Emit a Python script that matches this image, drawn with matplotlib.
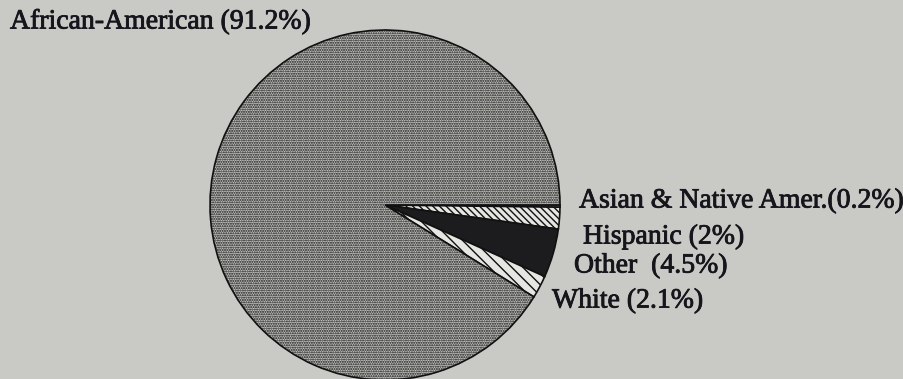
import matplotlib
matplotlib.use('Agg')
import matplotlib.pyplot as plt
import matplotlib.patheffects as pe

# Data (clockwise from 3 o'clock)
groups = ['Asian & Native Amer.', 'Hispanic', 'Other', 'White', 'African-American']
shares = [0.2, 2.0, 4.5, 2.1, 91.2]
labels = ['Asian & Native Amer.(0.2%)', 'Hispanic (2%)', 'Other  (4.5%)',
          'White (2.1%)', 'African-American (91.2%)']

bg = '#c9cac5'
faces = ['#e6e6e2', '#e6e6e2', '#1c1c1e', '#e6e6e2', '#c4c5c0']
hatches = ['', '\\\\\\\\\\', '', '\\\\\\', '.......']

plt.rcParams['hatch.linewidth'] = 1.0

fig = plt.figure(figsize=(9.04, 3.79), dpi=100, facecolor=bg)
ax = fig.add_axes([0, 0, 1, 1])
ax.set_facecolor(bg)

wedges, _ = ax.pie(shares, startangle=0, counterclock=False,
                   center=(385, 174), radius=175,
                   colors=faces,
                   wedgeprops=dict(edgecolor='#111111', linewidth=1.2))
for w, h in zip(wedges, hatches):
    w.set_hatch(h)

ax.set_xlim(0, 904)
ax.set_ylim(0, 379)
ax.set_aspect('auto')
ax.axis('off')

font = dict(family='Liberation Serif', fontsize=20, color='#15151c')
# label anchor positions (pixels, left/centre)
pos = [(579, 178), (583, 142), (574, 113), (552, 78), (10, 357)]
for lab, (x, y) in zip(labels, pos):
    t = ax.text(x, y, lab, ha='left', va='center', **font)
    t.set_path_effects([pe.withStroke(linewidth=0.6, foreground='#15151c')])

fig.savefig('out.png', dpi=100, facecolor=bg)
